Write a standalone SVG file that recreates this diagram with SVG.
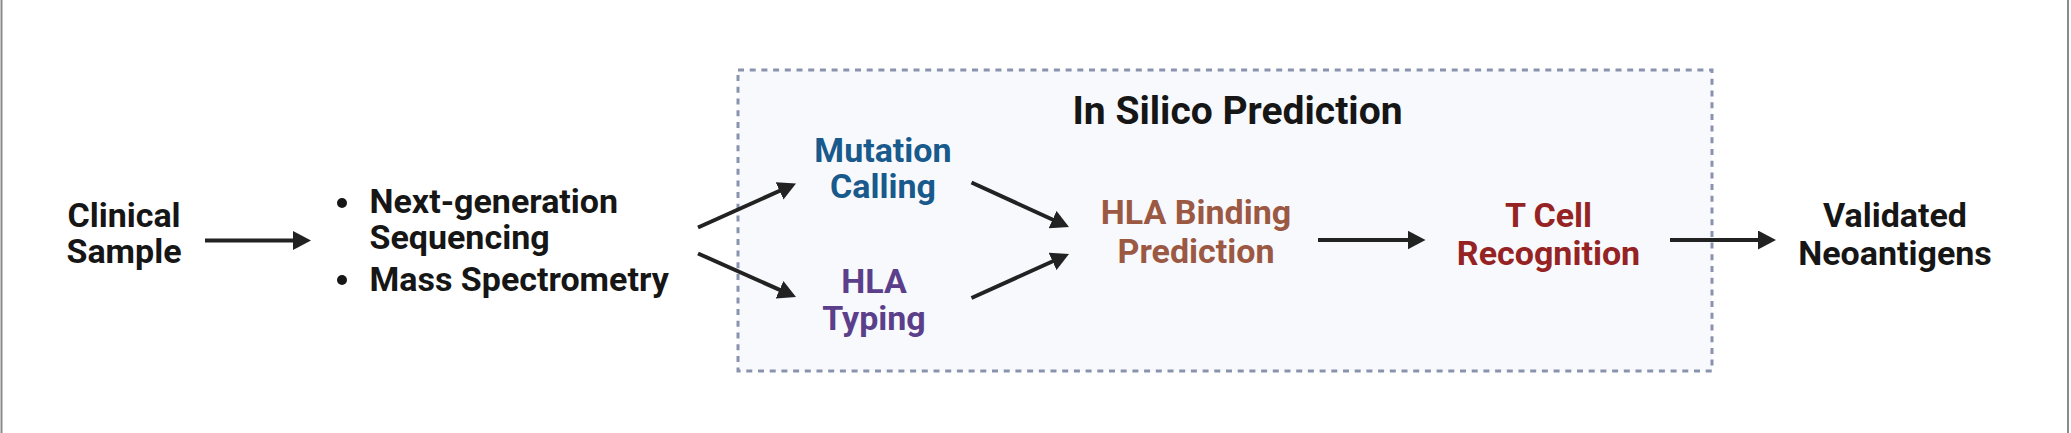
<svg xmlns="http://www.w3.org/2000/svg" width="2071" height="433" viewBox="0 0 2071 433">
<style>
.t{font-family:Roboto,"Liberation Sans",sans-serif;font-weight:700;font-size:34px;text-anchor:middle}
.k{fill:#161616}
.blue{fill:#185a8c}
.purple{fill:#5b3f8b}
.brown{fill:#9b5842}
.red{fill:#962324}
.c{stroke:#222;stroke-width:4;fill:none;marker-end:url(#ah)}
</style>
<defs>
<marker id="ah" markerUnits="userSpaceOnUse" markerWidth="18" markerHeight="19" refX="10" refY="9.5" orient="auto" viewBox="0 0 18 19">
<path d="M0,0 L18,9.5 L0,19 z" fill="#222"/>
</marker>
</defs>
<rect x="0" y="0" width="2071" height="433" fill="#fff"/>
<line x1="1.5" y1="0" x2="1.5" y2="433" stroke="#8a8a8a" stroke-width="2"/>
<line x1="2068" y1="0" x2="2068" y2="433" stroke="#8a8a8a" stroke-width="2"/>
<g id="group-in-silico">
<rect x="738" y="70" width="974" height="301" fill="#f8f9fd" stroke="#8a93ae" stroke-width="3" stroke-dasharray="6 5.7"/>
<text class="t k" x="1237.5" y="124" style="font-size:39px">In Silico Prediction</text>
</g>
<g id="connectors">
<line class="c" x1="205" y1="240.5" x2="303" y2="240.5"/>
<line class="c" x1="698" y1="227.5" x2="788.7" y2="186.8"/>
<line class="c" x1="698" y1="253.5" x2="788.7" y2="293.8"/>
<line class="c" x1="971.5" y1="182.5" x2="1061.7" y2="223.7"/>
<line class="c" x1="971.5" y1="298" x2="1061.7" y2="257.3"/>
<line class="c" x1="1318" y1="240" x2="1417.5" y2="240"/>
<line class="c" x1="1670" y1="240" x2="1768" y2="240"/>
</g>
<g id="clinical-sample">
<text class="t k" x="124" y="227">Clinical</text>
<text class="t k" x="124" y="263">Sample</text>
</g>
<g id="methods">
<circle cx="342" cy="203" r="5" fill="#161616"/>
<circle cx="342" cy="280" r="5" fill="#161616"/>
<text class="t k" x="369.5" y="213" style="text-anchor:start">Next-generation</text>
<text class="t k" x="369.5" y="249" style="text-anchor:start">Sequencing</text>
<text class="t k" x="369.5" y="290.5" style="text-anchor:start">Mass Spectrometry</text>
</g>
<g id="mutation-calling">
<text class="t blue" x="883" y="161.5">Mutation</text>
<text class="t blue" x="883" y="198">Calling</text>
</g>
<g id="hla-typing">
<text class="t purple" x="874" y="293">HLA</text>
<text class="t purple" x="874" y="330">Typing</text>
</g>
<g id="hla-binding">
<text class="t brown" x="1196" y="224">HLA Binding</text>
<text class="t brown" x="1196" y="263">Prediction</text>
</g>
<g id="t-cell">
<text class="t red" x="1548.5" y="226.5">T Cell</text>
<text class="t red" x="1548.5" y="265">Recognition</text>
</g>
<g id="validated">
<text class="t k" x="1895" y="227">Validated</text>
<text class="t k" x="1895" y="265">Neoantigens</text>
</g>
</svg>
